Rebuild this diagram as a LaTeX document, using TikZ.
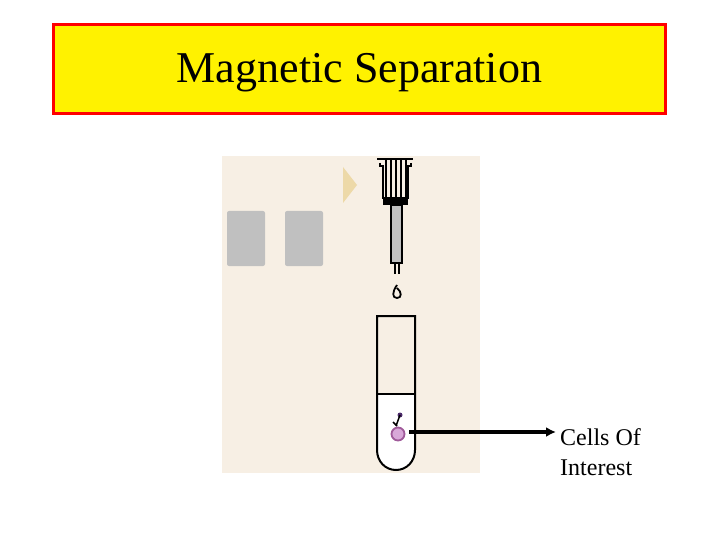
\documentclass[tikz,border=0pt]{standalone}
\usepackage{fontspec}
\setmainfont{Liberation Serif}
\usetikzlibrary{arrows.meta}
\definecolor{bgpanel}{HTML}{F7EFE4}
\definecolor{graybox}{HTML}{C0C0C0}
\definecolor{tan}{HTML}{EDD9A8}
\definecolor{cellpink}{HTML}{D8A8D8}
\definecolor{cellrim}{HTML}{A05A9A}
\definecolor{dotpurple}{HTML}{4B2A6A}
\tikzset{
  slot/.style={fill=graybox, draw=none, rounded corners=2pt},
  outline/.style={draw=black, line width=2pt},
  lbl/.style={font=\fontsize{24}{30}\selectfont, align=left, anchor=north west, inner sep=0pt}
}
\begin{document}
\begin{tikzpicture}[x=1pt,y=-1pt]
\useasboundingbox (0,0) rectangle (720,540);
\node[draw=red, line width=2.5pt, fill=yellow, minimum width=612pt, minimum height=89pt] (title) at (359.5,69) {};
\node[font=\fontsize{44}{50}\selectfont, inner sep=0pt] (titletext) at (359.5,73) {Magnetic Separation};
\fill[bgpanel] (222,156) rectangle (480,473);
\fill[slot] (227,211) rectangle (265,266);
\fill[slot] (285,211) rectangle (323,266);
\fill[tan] (343,167) -- (357,185) -- (343,203) -- cycle;
% syringe
\draw[line width=1.8pt] (377,159) -- (413,159);
\draw[line width=1.3pt] (386,159) -- (386,199) (391,159) -- (391,199) (396,159) -- (396,199) (401,159) -- (401,199) (406,159) -- (406,199);
\draw[line width=1.8pt] (380,163) -- (380,166) -- (383,166) -- (383,199) (411,163) -- (411,166) -- (408,166) -- (408,199);
\fill[black] (383,197) rectangle (408,205);
\draw[fill=graybox, line width=1.8pt] (391,205) rectangle (402,263);
\draw[line width=1.3pt] (395,263) -- (395,274) (399,263) -- (399,274);
\draw[line width=1.8pt] (397,285) .. controls (392,292) and (392,298) .. (397,298) .. controls (402,298) and (402,292) .. (397,288);
% tube
\fill[white] (377,394) -- (377,450) .. controls (377,461) and (385,470) .. (396,470) .. controls (407,470) and (415,461) .. (415,450) -- (415,394) -- cycle;
\draw[outline] (377,316) -- (377,450) .. controls (377,461) and (385,470) .. (396,470) .. controls (407,470) and (415,461) .. (415,450) -- (415,316) -- cycle;
\draw[line width=1.6pt] (377,394) -- (415,394);
\node[circle, fill=cellpink, draw=cellrim, line width=1.8pt, minimum size=13pt, inner sep=0pt] (cell) at (398,434) {};
\fill[dotpurple] (400,415) circle (2.5pt);
\draw[line width=1.5pt] (400,415) -- (396,426) (393,422) -- (397,426);
\coordinate (start) at (409,432);
\coordinate (tip) at (556,432);
\draw[line width=4pt, -{Latex[length=10pt,width=10pt]}] (start) -- (tip);
\node[lbl] (cells) at (560,428) {Cells Of\\Interest};
\end{tikzpicture}
\end{document}
